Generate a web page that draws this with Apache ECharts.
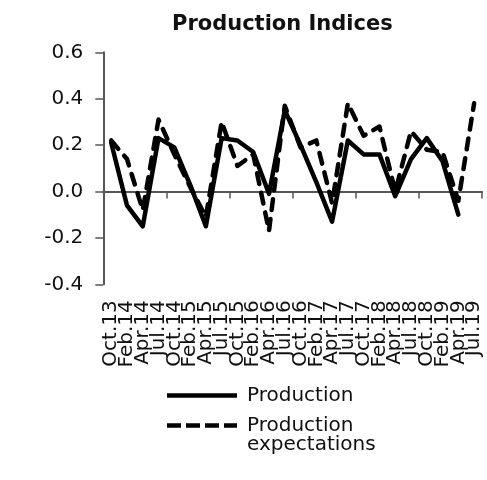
<!DOCTYPE html>
<html>
<head>
<meta charset="utf-8">
<style>
  html, body { margin: 0; padding: 0; background: #fff; }
  #chart { width: 487px; height: 480px; }
</style>
<script src="https://cdn.jsdelivr.net/npm/echarts@6/dist/echarts.min.js"></script>
</head>
<body>
<div id="chart"></div>
<script>
// Survey dates (quarterly rounds)
const categories = ['Oct.13','Feb.14','Apr.14','Jul.14','Oct.14','Feb.15','Apr.15','Jul.15',
  'Oct.15','Feb.16','Apr.16','Jul.16','Oct.16','Feb.17','Apr.17','Jul.17','Oct.17','Feb.18',
  'Apr.18','Jul.18','Oct.18','Feb.19','Apr.19','Jul.19'];

// Production index
const production = [0.21, -0.06, -0.15, 0.23, 0.19, 0.03, -0.15, 0.23, 0.22, 0.17, -0.01, 0.35,
  0.20, 0.04, -0.13, 0.22, 0.16, 0.16, -0.02, 0.14, 0.23, 0.13, -0.10, null];

// Production expectations index
const expectations = [0.22, 0.14, -0.08, 0.31, 0.16, 0.02, -0.11, 0.30, 0.11, 0.16, -0.17, 0.37,
  0.19, 0.22, -0.05, 0.38, 0.24, 0.28, 0.00, 0.26, 0.18, 0.17, -0.04, 0.38];

// Value axis ticks
const yTicks = { min: -0.4, max: 0.6, step: 0.2 };

const FONT = 'DejaVu Sans';
const TEXT = '#111';
const AXIS = '#555';

// Legend keys: a solid bar and a row of dashes
const SOLID_KEY = 'path://M0,0H70V4H0Z';
const DASH_KEY = 'path://M0,0H14V4H0Z M19,0H33V4H19Z M38,0H52V4H38Z M57,0H70V4H57Z';

const legendText = { fontFamily: FONT, fontSize: 20, color: TEXT, lineHeight: 19, padding: [0, 0, 0, 5] };

const chart = echarts.init(document.getElementById('chart'), null, { renderer: 'canvas' });

chart.setOption({
  animation: false,
  backgroundColor: '#fff',
  title: {
    text: 'Production Indices',
    left: 172,
    top: 14,
    padding: 0,
    textStyle: { fontFamily: FONT, fontSize: 21, fontWeight: 'bold', color: TEXT }
  },
  grid: { left: 103.3, right: 5, top: 52.3, bottom: 195.7, containLabel: false },
  legend: [
    {
      data: [{ name: 'Production', icon: SOLID_KEY }],
      orient: 'vertical',
      left: 167, top: 385.5, padding: 0,
      itemWidth: 70, itemHeight: 4.5, symbolKeepAspect: false,
      textStyle: legendText
    },
    {
      data: [{ name: 'Production expectations', icon: DASH_KEY }],
      orient: 'vertical',
      left: 167, top: 396.5, padding: 0,
      itemWidth: 70, itemHeight: 4.5, symbolKeepAspect: false,
      // a blank first line keeps the key level with "Production"
      formatter: name => ' \n' + name.replace(' ', '\n'),
      textStyle: legendText
    }
  ],
  xAxis: [
    {
      // category labels along the bottom of the plot
      type: 'category',
      data: categories,
      position: 'bottom',
      axisLine: { show: false, onZero: false },
      axisTick: { show: false },
      axisLabel: {
        interval: 0, rotate: 90, margin: 16,
        fontFamily: FONT, fontSize: 20, color: TEXT
      },
      splitLine: { show: false }
    },
    {
      // baseline with tick marks at zero
      type: 'category',
      data: categories,
      position: 'top',
      axisLine: { show: true, onZero: true, onZeroAxisIndex: 0, lineStyle: { color: AXIS, width: 2 } },
      axisTick: { show: true, inside: true, length: 7, lineStyle: { color: AXIS, width: 1.5 } },
      axisLabel: { show: false },
      splitLine: { show: false }
    }
  ],
  yAxis: {
    type: 'value',
    min: yTicks.min, max: yTicks.max, interval: yTicks.step,
    axisLine: { show: true, lineStyle: { color: AXIS, width: 2 } },
    axisTick: { show: true, length: 8, lineStyle: { color: AXIS, width: 1.5 } },
    splitLine: { show: false },
    axisLabel: {
      margin: 20, fontFamily: FONT, fontSize: 20, color: TEXT,
      formatter: v => v.toFixed(1)
    }
  },
  series: [
    {
      name: 'Production',
      type: 'line',
      data: production,
      symbol: 'none',
      lineStyle: { color: '#000', width: 4.5, cap: 'round', join: 'round' },
      itemStyle: { color: '#000' }
    },
    {
      name: 'Production expectations',
      type: 'line',
      data: expectations,
      symbol: 'none',
      lineStyle: { color: '#000', width: 4.5, type: [11, 9], cap: 'round', join: 'round' },
      itemStyle: { color: '#000' }
    }
  ]
});
</script>
</body>
</html>
